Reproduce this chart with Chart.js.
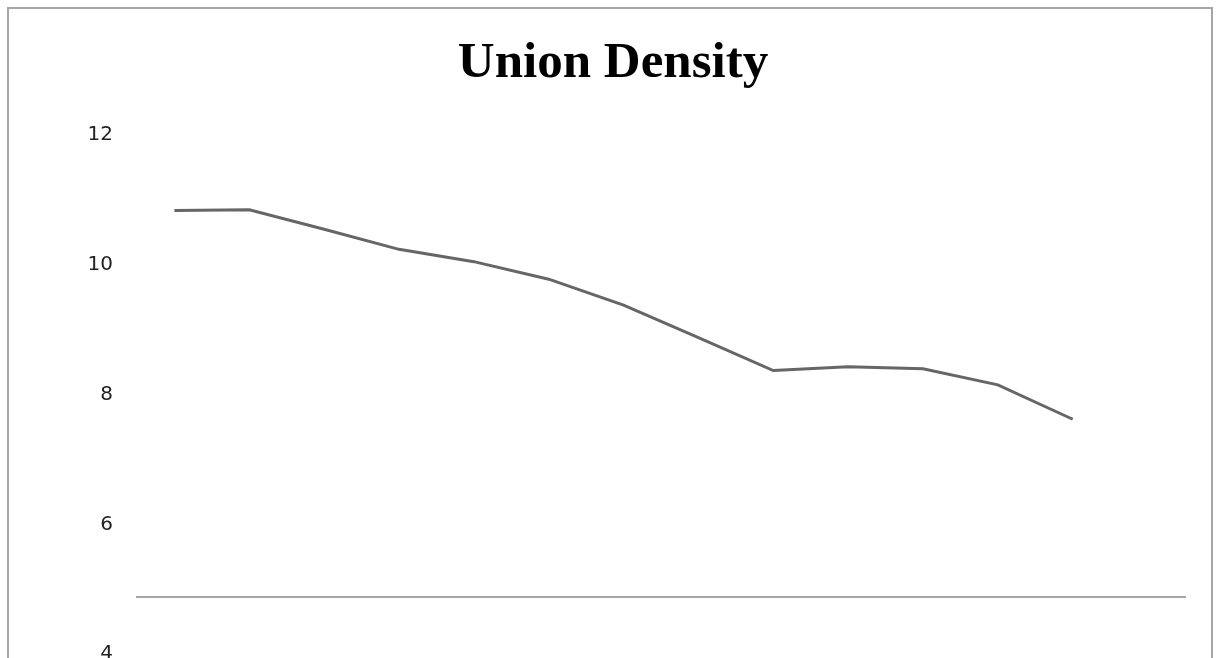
<!DOCTYPE html>
<html lang="en">
<head>
  <meta charset="UTF-8">
  <title>Union Density</title>
  <script src="https://cdn.jsdelivr.net/npm/chart.js@4"></script>
  <style>
    html, body { margin: 0; padding: 0; background: #fff; overflow: hidden; }
    #wrap { position: absolute; left: 0; top: 0; width: 1216px; height: 690px; }
    #frame { position: absolute; left: 7px; top: 7px; width: 1202px; height: 800px;
             border: 2px solid #a6a6a6; pointer-events: none; }
  </style>
</head>
<body>
  <div id="wrap">
    <canvas id="chart-canvas"></canvas>
  </div>
  <div id="frame"></div>
  <script>
    // categories (axis labels are not visible in the picture)
    const categories = ['1', '2', '3', '4', '5', '6', '7', '8', '9', '10', '11', '12', '13', '14'];
    // union density
    const density = [10.84, 10.85, 10.55, 10.24, 10.05, 9.78, 9.38, 8.88, 8.37, 8.43, 8.40, 8.15, 7.62, null];
    const yTicks = [4, 6, 8, 10, 12];
    const axisCross = 4.88;

    const ctx = document.getElementById('chart-canvas').getContext('2d');
    new Chart(ctx, {
      type: 'line',
      data: {
        labels: categories,
        datasets: [{
          label: 'Union Density',
          data: density,
          borderColor: '#666666',
          borderWidth: 3,
          pointRadius: 0,
          tension: 0,
          fill: false
        }]
      },
      options: {
        responsive: true,
        maintainAspectRatio: false,
        animation: false,
        layout: { padding: { left: 41, right: 31, top: 0, bottom: 28 } },
        plugins: {
          legend: { display: false },
          tooltip: { enabled: false },
          title: {
            display: true,
            text: 'Union Density',
            color: '#000',
            font: { family: 'Liberation Serif', size: 51, weight: 'bold', lineHeight: 1.2 },
            padding: { top: 33, bottom: 41 }
          }
        },
        scales: {
          x: {
            offset: true,
            position: { y: axisCross },
            grid: { display: false },
            border: { display: true, color: '#a6a6a6', width: 2 },
            ticks: { display: false }
          },
          y: {
            min: yTicks[0],
            max: yTicks[yTicks.length - 1],
            afterBuildTicks: scale => { scale.ticks = yTicks.map(v => ({ value: v })); },
            afterFit: scale => { scale.width = 96; },
            grid: { display: false, drawTicks: false },
            border: { display: false },
            ticks: {
              padding: 24,
              color: '#222',
              font: { family: 'DejaVu Sans', size: 20 }
            }
          }
        }
      }
    });
  </script>
</body>
</html>
